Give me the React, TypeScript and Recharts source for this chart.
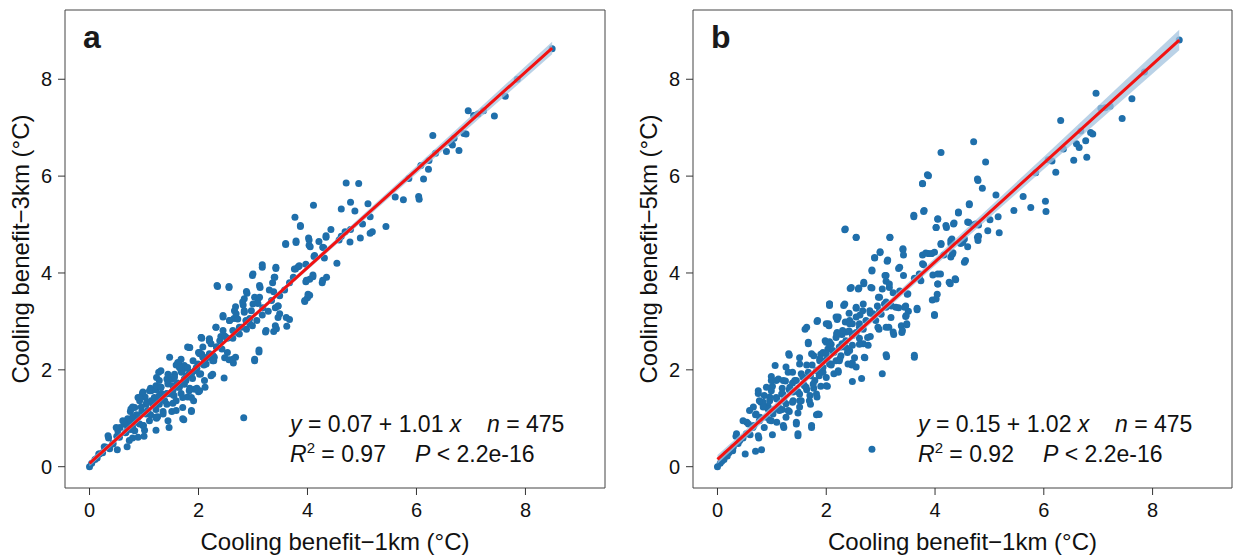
import React from "react";
import { ComposedChart, Scatter, Line, Area, XAxis, YAxis, ReferenceArea } from "recharts";

const FONT = "'Liberation Sans', Arial, sans-serif";
const DOT = "#1f6fab";
const FIT = "#f21212";
const BAND = "#a3c3df";

const TICKS = [0, 2, 4, 6, 8];
const X_DOMAIN = [-0.45, 9.46];
const Y_DOMAIN = [-0.44, 9.43];

// panel a: cooling benefit 1km (x) vs 3km (y)
const pointsA: number[][] = [
  [8.49, 8.63], [7.85, 8.0], [7.63, 7.65], [6.95, 7.35], [7.05, 7.25], [7.13, 7.28], [7.23, 7.35], [7.43, 7.24],
  [6.87, 6.88], [6.91, 6.87], [6.3, 6.84], [6.69, 6.78], [6.63, 6.69], [6.55, 6.51], [6.78, 6.53], [6.66, 6.64],
  [6.35, 6.47], [6.23, 6.32], [6.08, 6.22], [6.22, 6.14], [6.13, 5.94], [5.86, 5.95], [6.04, 5.58], [6.05, 5.52],
  [5.61, 5.57], [5.76, 5.51], [4.71, 5.86], [4.94, 5.85], [4.11, 5.4], [3.77, 5.15], [5.11, 5.43], [4.79, 5.46],
  [4.62, 5.32], [4.87, 5.28], [5.44, 4.96], [5.15, 5.16], [5.01, 5.01], [5.19, 4.85], [5.15, 4.82], [4.97, 4.72],
  [4.79, 4.9], [4.69, 4.85], [4.62, 4.76], [4.58, 4.68], [4.78, 4.64], [4.43, 4.9], [4.34, 4.74], [4.21, 4.65],
  [4.03, 4.68], [4.05, 4.54], [4.3, 4.52], [4.12, 4.34], [4.31, 4.31], [4.54, 4.2], [3.87, 4.96], [3.79, 4.63],
  [3.6, 4.59], [3.97, 4.18], [3.83, 4.13], [3.78, 4.08], [3.17, 4.12], [3.42, 4.09], [2.99, 3.95], [4.35, 3.91],
  [4.27, 3.8], [4.1, 3.92], [4.04, 3.87], [3.97, 3.82], [3.74, 3.91], [3.67, 3.8], [3.58, 3.65], [3.4, 3.91],
  [3.36, 3.8], [4.04, 3.54], [4.0, 3.49], [3.95, 3.41], [2.35, 3.72], [2.56, 3.7], [3.13, 3.7], [2.89, 3.58],
  [2.84, 3.47], [3.03, 3.5], [3.38, 3.61], [3.34, 3.43], [3.46, 3.32], [3.41, 3.28], [3.49, 3.16], [3.67, 3.04],
  [3.62, 2.9], [3.41, 2.91], [3.38, 2.79], [3.23, 2.78], [2.68, 3.3], [2.82, 3.34], [3.09, 3.37], [3.18, 3.28],
  [3.28, 3.21], [2.45, 3.09], [2.65, 3.06], [2.84, 3.19], [2.94, 3.06], [3.07, 3.02], [3.17, 3.13], [2.99, 2.91],
  [2.88, 2.84], [2.79, 2.88], [2.71, 2.77], [2.32, 2.88], [2.41, 2.69], [2.53, 2.65], [2.63, 2.65], [2.06, 2.65],
  [2.23, 2.54], [2.33, 2.47], [2.43, 2.43], [2.53, 2.36], [2.68, 2.26], [2.64, 2.14], [2.48, 2.25], [2.56, 2.21],
  [3.11, 2.37], [3.03, 2.19], [1.83, 2.46], [2.06, 2.32], [2.27, 2.29], [2.28, 2.19], [2.0, 2.36], [2.14, 2.25],
  [2.1, 2.1], [1.64, 2.14], [1.74, 2.03], [1.84, 1.95], [1.97, 2.03], [2.04, 1.92], [2.23, 1.88], [2.47, 1.83],
  [1.59, 2.1], [1.69, 1.95], [1.78, 1.88], [1.89, 1.82], [1.27, 1.95], [1.23, 1.84], [1.42, 1.81], [1.51, 1.81],
  [1.61, 1.73], [1.74, 1.7], [1.84, 1.62], [1.97, 1.62], [2.12, 1.64], [1.12, 1.62], [1.22, 1.59], [1.32, 1.51],
  [1.42, 1.51], [1.55, 1.47], [1.68, 1.51], [1.8, 1.44], [1.91, 1.36], [2.0, 1.55], [0.97, 1.51], [1.02, 1.44],
  [0.92, 1.36], [1.05, 1.33], [1.17, 1.33], [1.28, 1.29], [1.42, 1.29], [1.53, 1.31], [1.71, 1.22], [0.83, 1.22],
  [0.96, 1.14], [1.22, 1.18], [1.35, 1.14], [1.51, 1.14], [0.75, 1.14], [0.86, 1.07], [1.12, 1.07], [1.25, 1.03],
  [1.87, 1.14], [0.69, 0.92], [0.86, 0.92], [0.99, 0.85], [1.23, 1.0], [1.46, 0.81], [1.73, 0.97], [2.83, 1.01],
  [0.56, 0.81], [0.66, 0.7], [0.76, 0.77], [0.79, 0.59], [1.0, 0.63], [0.5, 0.63], [0.35, 0.59], [0.43, 0.48],
  [0.51, 0.35], [0.69, 0.41], [0.27, 0.41], [0.37, 0.37], [0.17, 0.26], [0.1, 0.15], [0.04, 0.07], [0.0, 0.0],
  [0.24, 0.29], [0.14, 0.18],
  [2.05, 2.67], [2.2, 2.64], [1.8, 2.47], [2.02, 2.36], [2.17, 2.26], [1.68, 2.22], [1.62, 2.15], [1.74, 2.09],
  [1.93, 1.98], [1.31, 1.98], [1.44, 1.74], [1.53, 1.67], [1.22, 1.67], [1.13, 1.57], [0.98, 1.54], [0.89, 1.43],
  [1.28, 1.47], [1.38, 1.36], [1.87, 1.43], [2.02, 1.57], [1.87, 1.16], [1.71, 0.99], [1.44, 0.95], [1.22, 1.02],
  [0.76, 1.19], [0.7, 0.99], [0.98, 0.85], [0.83, 0.74], [0.34, 0.64], [1.13, 1.36], [1.04, 1.29], [1.5, 1.5],
  [1.62, 1.64], [1.74, 1.81], [1.87, 1.91], [1.99, 2.12], [2.11, 2.19], [1.56, 1.91], [1.44, 1.91], [1.31, 1.64],
  [1.19, 1.43], [1.07, 1.16], [0.89, 1.02], [0.76, 0.95], [0.64, 0.88], [0.52, 0.74], [0.7, 0.81], [1.68, 1.98],
  [1.8, 2.05], [1.59, 1.36], [1.93, 1.6], [2.11, 1.78], [2.26, 1.91],
  [3.87, 4.98], [3.6, 4.61], [3.79, 4.66], [4.02, 4.72], [4.34, 4.77], [4.03, 4.57], [4.13, 4.36], [4.28, 4.53],
  [3.17, 4.17], [3.42, 4.12], [3.0, 3.98], [2.34, 3.74], [2.56, 3.72], [3.12, 3.74], [3.39, 3.91], [3.76, 4.08],
  [3.85, 4.15], [3.98, 3.85], [4.1, 3.96], [4.28, 3.85], [2.88, 3.62], [3.3, 3.65], [3.49, 3.53], [4.01, 3.56],
  [3.95, 3.43], [2.81, 3.4], [3.09, 3.46], [3.46, 3.32], [2.45, 3.12], [2.66, 3.22], [2.97, 3.22], [3.46, 3.08],
  [3.61, 3.08], [3.24, 2.81], [3.43, 2.85], [2.32, 2.88], [2.57, 3.02], [2.72, 3.05], [2.94, 2.95], [2.05, 2.67],
  [1.84, 2.46], [2.2, 2.6], [2.48, 2.7], [2.75, 2.74], [3.11, 2.41], [3.03, 2.22], [2.63, 2.22], [2.29, 2.26],
  [2.02, 2.33],
  [0.18, 0.26], [0.31, 0.4], [0.43, 0.47], [0.55, 0.61], [0.67, 0.71], [0.79, 0.81], [0.92, 0.88], [0.73, 0.54],
  [0.89, 0.61], [1.01, 0.75], [1.1, 0.95], [1.22, 1.02], [1.35, 1.09], [1.04, 1.09], [0.95, 1.23], [1.16, 1.3],
  [1.28, 1.4], [1.41, 1.5], [1.53, 1.57], [1.65, 1.64], [1.77, 1.78], [1.65, 2.05], [1.56, 1.85], [1.44, 1.71],
  [1.31, 1.64], [1.83, 1.91], [1.96, 2.05], [1.9, 2.19], [2.08, 2.26], [2.2, 2.33], [2.33, 2.47], [2.39, 2.6],
  [2.51, 2.67], [2.63, 2.81], [2.75, 2.88], [2.87, 3.02], [2.45, 2.81], [2.57, 3.02], [2.69, 3.16], [2.84, 3.22],
  [3.0, 3.36], [3.12, 3.5], [2.08, 2.47], [2.2, 2.6], [2.02, 1.91], [2.14, 2.12], [2.26, 2.19], [1.47, 2.26],
  [1.28, 1.78], [1.1, 1.57], [0.92, 1.43], [0.79, 1.23], [0.61, 0.95], [0.49, 0.81], [0.79, 1.02], [1.22, 0.75],
  [1.59, 1.16], [1.83, 1.57], [1.71, 1.43],
];

// panel b: cooling benefit 1km (x) vs 5km (y)
const pointsB: number[][] = [
  [8.49, 8.81], [7.85, 8.15], [6.96, 7.71], [7.62, 7.6], [7.05, 7.4], [7.13, 7.41], [7.22, 7.44], [7.44, 7.19],
  [6.31, 7.15], [6.68, 6.93], [6.86, 6.9], [6.9, 6.87], [6.6, 6.67], [6.65, 6.59], [6.77, 6.73], [6.36, 6.56],
  [6.55, 6.33], [6.79, 6.39], [6.15, 6.31], [6.08, 6.34], [6.22, 6.08], [5.85, 6.07], [4.71, 6.71], [4.11, 6.49],
  [4.93, 6.29], [3.88, 6.01], [3.77, 5.84], [4.79, 5.91], [4.87, 5.75], [5.12, 5.61], [5.62, 5.58], [5.45, 5.29],
  [5.76, 5.35], [6.03, 5.48], [6.04, 5.27], [4.63, 5.41], [4.43, 5.24], [3.61, 5.16], [3.79, 5.27], [4.05, 5.11],
  [4.21, 4.94], [4.02, 4.94], [4.34, 5.01], [4.62, 5.04], [4.7, 4.99], [4.8, 4.99], [5.01, 5.1], [5.16, 5.16],
  [4.97, 4.87], [5.18, 4.83], [4.8, 4.76], [4.79, 4.67], [4.47, 4.61], [4.54, 4.7], [4.6, 4.54], [4.31, 4.7],
  [4.29, 4.61], [4.11, 4.59], [4.16, 4.37], [4.29, 4.33], [4.33, 4.42], [4.54, 4.22], [3.77, 4.37], [3.88, 4.4],
  [3.94, 4.4], [3.79, 4.17], [3.17, 4.73], [2.99, 4.42], [2.89, 4.31], [2.34, 4.89], [2.55, 4.73], [3.41, 4.48],
  [3.42, 4.37], [3.33, 4.09], [3.12, 4.24], [2.84, 4.04], [3.42, 3.95], [3.62, 3.89], [3.71, 3.98], [3.74, 3.84],
  [3.96, 3.96], [4.1, 3.98], [4.05, 3.77], [4.04, 3.56], [3.95, 3.44], [4.28, 3.78], [4.38, 3.86], [3.99, 3.12],
  [3.08, 3.95], [3.1, 3.83], [3.16, 3.7], [3.03, 3.67], [3.23, 3.59], [2.84, 3.69], [2.69, 3.78], [2.59, 3.67],
  [2.44, 3.68], [2.96, 3.5], [2.94, 3.32], [3.07, 3.36], [3.2, 3.32], [3.33, 3.28], [3.46, 3.32], [3.49, 3.56],
  [3.51, 3.21], [3.46, 3.1], [3.67, 3.24], [3.38, 2.91], [3.48, 2.93], [3.24, 2.73], [3.39, 2.77], [2.06, 3.33],
  [2.32, 3.33], [2.55, 3.27], [2.68, 3.36], [2.42, 3.17], [2.62, 3.13], [2.81, 3.17], [2.91, 3.02], [2.2, 3.04],
  [2.35, 2.99], [2.48, 2.95], [1.83, 3.0], [2.05, 2.91], [2.2, 2.77], [2.29, 2.73], [2.42, 2.8], [2.55, 2.77],
  [2.68, 2.84], [2.81, 2.69], [2.97, 2.84], [3.1, 2.88], [1.61, 2.84], [2.06, 2.58], [2.29, 2.54], [2.48, 2.51],
  [2.61, 2.65], [2.68, 2.54], [2.77, 2.51], [2.71, 2.25], [1.98, 2.6], [2.03, 2.43], [2.14, 2.36], [2.27, 2.29],
  [2.39, 2.36], [2.52, 2.25], [2.47, 2.1], [2.55, 2.06], [2.48, 1.76], [2.65, 1.82], [1.67, 2.54], [1.77, 2.29],
  [1.9, 2.32], [2.0, 2.21], [2.09, 2.1], [2.22, 1.95], [2.14, 1.92], [2.0, 1.84], [2.02, 1.66], [3.11, 2.27],
  [3.03, 1.92], [3.62, 2.26], [1.32, 2.3], [1.51, 2.25], [1.64, 2.1], [1.74, 2.1], [1.83, 1.99], [1.26, 2.06],
  [1.38, 1.95], [1.54, 1.92], [1.71, 1.88], [1.87, 1.88], [0.99, 1.86], [1.12, 1.81], [1.25, 1.77], [1.38, 1.73],
  [1.58, 1.7], [1.01, 1.66], [1.19, 1.62], [1.32, 1.59], [1.48, 1.55], [1.64, 1.59], [1.77, 1.62], [1.9, 1.66],
  [1.83, 1.44], [0.75, 1.51], [0.86, 1.47], [0.96, 1.44], [1.09, 1.4], [1.22, 1.36], [1.38, 1.33], [1.54, 1.36],
  [1.71, 1.29], [0.8, 1.33], [0.93, 1.25], [1.04, 1.18], [1.19, 1.18], [1.32, 1.14], [1.48, 1.11], [1.45, 0.88],
  [1.82, 1.07], [1.87, 1.08], [0.7, 1.07], [0.8, 1.0], [0.96, 0.96], [1.09, 0.92], [1.22, 0.81], [0.54, 0.92],
  [0.67, 0.85], [0.86, 0.81], [1.01, 0.66], [1.48, 0.64], [1.73, 0.81], [0.34, 0.63], [0.47, 0.59], [0.6, 0.66],
  [0.76, 0.59], [0.7, 0.32], [0.81, 0.35], [0.51, 0.26], [0.38, 0.48], [0.28, 0.33], [0.18, 0.22], [0.12, 0.15],
  [0.05, 0.07], [0.0, 0.0], [2.84, 0.36], [0.21, 0.29], [0.08, 0.11],
  [2.06, 3.36], [1.84, 3.02], [2.22, 3.09], [2.04, 2.95], [1.64, 2.88], [2.37, 2.78], [2.19, 2.74], [1.67, 2.57],
  [2.0, 2.57], [2.28, 2.47], [2.43, 2.4], [1.31, 2.33], [1.73, 2.33], [1.88, 2.23], [2.06, 2.12], [2.25, 2.23],
  [2.4, 2.12], [1.06, 2.09], [1.51, 2.12], [1.3, 1.95], [1.67, 1.95], [1.94, 1.95], [2.22, 1.98], [0.99, 1.78],
  [1.21, 1.78], [1.42, 1.78], [1.6, 1.67], [1.79, 1.78], [2.0, 1.67], [0.75, 1.57], [0.99, 1.57], [1.18, 1.5],
  [1.39, 1.54], [1.7, 1.47], [1.51, 1.36], [0.84, 1.33], [0.66, 1.23], [0.93, 1.19], [1.12, 1.23], [1.3, 1.16],
  [1.85, 1.09], [1.73, 0.85], [1.45, 0.92], [1.21, 0.85], [0.99, 0.95], [0.78, 1.02], [0.57, 0.88], [1.48, 0.68],
  [0.75, 0.64], [0.35, 0.68],
  [3.86, 6.03], [3.77, 5.85], [4.78, 5.94], [4.63, 5.43], [3.61, 5.19], [3.8, 5.29], [4.05, 5.12], [4.43, 5.26],
  [2.35, 4.91], [2.55, 4.74], [3.17, 4.74], [4.02, 4.94], [4.2, 4.98], [4.35, 5.03], [4.6, 5.05], [4.75, 5.01],
  [4.11, 4.61], [4.29, 4.67], [4.51, 4.63], [4.78, 4.74], [2.99, 4.44], [2.89, 4.32], [3.13, 4.27], [3.41, 4.5],
  [3.83, 4.41], [3.99, 4.43], [4.32, 4.39], [4.56, 4.26], [3.35, 4.12], [2.84, 4.06], [3.1, 3.95], [3.77, 4.19],
  [3.71, 3.91], [4.05, 3.98], [4.37, 3.88], [2.69, 3.81], [2.46, 3.7], [2.6, 3.69], [2.82, 3.7], [3.16, 3.77],
  [3.35, 3.63], [3.5, 3.57], [4.05, 3.77], [4.26, 3.81], [4.02, 3.46], [2.98, 3.5], [3.1, 3.4], [3.28, 3.29],
  [3.44, 3.29], [2.06, 3.36], [2.34, 3.36], [2.55, 3.29], [2.8, 3.22], [3.01, 3.15], [3.19, 3.08], [3.47, 3.12],
  [3.67, 3.27], [3.99, 3.14], [2.18, 3.09], [2.43, 3.02], [2.61, 2.95], [2.95, 2.88], [3.15, 2.88], [3.23, 2.78],
  [3.4, 2.81], [3.48, 2.95], [2.0, 2.95], [2.24, 2.74], [2.48, 2.71], [2.76, 2.67], [2.09, 2.53], [2.36, 2.46],
  [2.61, 2.53], [3.1, 2.31], [3.62, 2.3], [1.94, 2.36], [2.18, 2.19], [2.48, 2.14], [2.7, 2.26],
  [0.16, 0.26], [0.29, 0.4], [0.41, 0.54], [0.53, 0.68], [0.65, 0.81], [0.77, 0.95], [0.9, 1.02], [0.71, 1.09],
  [0.84, 1.23], [0.96, 1.36], [1.08, 1.43], [1.2, 1.5], [1.02, 1.09], [1.14, 1.16], [1.26, 1.3], [1.39, 1.36],
  [1.51, 1.5], [1.33, 1.64], [1.45, 1.78], [1.57, 1.85], [1.69, 1.91], [1.82, 1.98], [1.63, 1.64], [1.76, 1.71],
  [1.88, 2.19], [2.0, 2.33], [2.12, 2.4], [2.24, 2.47], [2.36, 2.6], [2.49, 2.74], [2.61, 2.88], [2.73, 3.02],
  [2.86, 3.16], [2.98, 3.22], [3.1, 3.29], [2.43, 2.95], [2.55, 3.09], [2.67, 3.22], [2.18, 2.67], [2.3, 2.81],
  [2.06, 2.53], [1.94, 2.05], [2.09, 2.12], [2.24, 2.19], [1.08, 1.78], [0.9, 1.64], [0.77, 1.36], [0.59, 1.16],
  [0.47, 0.95], [1.26, 1.02], [1.51, 1.23], [1.69, 1.36], [1.82, 1.5],
];

// fitted lines and 95% band half-widths read at bandX
const fitA = { intercept: 0.07, slope: 1.01 };
const fitB = { intercept: 0.15, slope: 1.02 };
const bandX = [0, 2, 4, 6, 8.49];
const bandHalfA = [0.06, 0.04, 0.05, 0.08, 0.13];
const bandHalfB = [0.09, 0.06, 0.08, 0.13, 0.21];

const statsA = { a: "0.07", b: "1.01", n: "475", r2: "0.97", p: "2.2e-16" };
const statsB = { a: "0.15", b: "1.02", n: "475", r2: "0.92", p: "2.2e-16" };

const W = 1234;
const H = 558;

type PanelProps = {
  left: number;
  width: number;
  rightMargin: number;
  letter: string;
  yTitle: string;
  points: number[][];
  fit: { intercept: number; slope: number };
  half: number[];
  stats: typeof statsA;
};

function Panel({ left, width, rightMargin, letter, yTitle, points, fit, half, stats }: PanelProps) {
  const scatterData = points.map(([x, y]) => ({ x, y }));
  const fitData = bandX.map((x, i) => {
    const f = fit.intercept + fit.slope * x;
    return { x, fit: f, band: [f - half[i], f + half[i]] };
  });
  const plotCenter = (65 + width - rightMargin) / 2;
  const axisTick = { fontSize: 20, fill: "#111", fontFamily: FONT };
  const margin = { top: 10, right: rightMargin, bottom: 0, left: 0 };

  return (
    <div style={{ position: "absolute", left, top: 0, width, height: H }}>
      {/* points, axes and frame */}
      <div style={{ position: "absolute", left: 0, top: 0 }}>
        <ComposedChart width={width} height={H} data={fitData} margin={margin}>
          <XAxis
            type="number"
            dataKey="x"
            domain={X_DOMAIN}
            ticks={TICKS}
            allowDataOverflow
            height={70}
            axisLine={false}
            tickLine={{ stroke: "#333" }}
            tickSize={7}
            tickMargin={8}
            tick={axisTick}
          />
          <YAxis
            type="number"
            domain={Y_DOMAIN}
            ticks={TICKS}
            allowDataOverflow
            width={65}
            axisLine={false}
            tickLine={{ stroke: "#333" }}
            tickSize={7}
            tickMargin={6}
            tick={axisTick}
          />
          <Scatter
            data={scatterData}
            dataKey="y"
            isAnimationActive={false}
            shape={(p: any) => <circle cx={p.cx} cy={p.cy} r={3.5} fill={DOT} />}
          />
          <ReferenceArea
            x1={X_DOMAIN[0]}
            x2={X_DOMAIN[1]}
            y1={Y_DOMAIN[0]}
            y2={Y_DOMAIN[1]}
            fill="none"
            stroke="#444"
            strokeWidth={1}
            ifOverflow="visible"
          />
        </ComposedChart>
      </div>
      {/* regression band and line drawn on top of the points */}
      <div style={{ position: "absolute", left: 0, top: 0 }}>
        <ComposedChart width={width} height={H} data={fitData} margin={margin}>
          <XAxis
            type="number"
            dataKey="x"
            domain={X_DOMAIN}
            ticks={TICKS}
            allowDataOverflow
            height={70}
            axisLine={false}
            tickLine={false}
            tick={false}
          />
          <YAxis
            type="number"
            domain={Y_DOMAIN}
            ticks={TICKS}
            allowDataOverflow
            width={65}
            axisLine={false}
            tickLine={false}
            tick={false}
          />
          <Area
            dataKey="band"
            type="linear"
            stroke="none"
            fill={BAND}
            fillOpacity={0.75}
            isAnimationActive={false}
          />
          <Line
            dataKey="fit"
            type="linear"
            stroke={FIT}
            strokeWidth={3}
            dot={false}
            isAnimationActive={false}
          />
        </ComposedChart>
      </div>
      <svg
        width={width}
        height={H}
        style={{ position: "absolute", left: 0, top: 0, pointerEvents: "none" }}
        fontFamily={FONT}
      >
        <text x={83} y={48} fontSize={32} fontWeight="bold" fill="#1a1a1a">
          {letter}
        </text>
        <text x={290} y={432} fontSize={23} fill="#111">
          <tspan fontStyle="italic">y</tspan>
          {` = ${stats.a} + ${stats.b} `}
          <tspan fontStyle="italic">x</tspan>
        </text>
        <text x={487} y={432} fontSize={23} fill="#111">
          <tspan fontStyle="italic">n</tspan>
          {` = ${stats.n}`}
        </text>
        <text x={290} y={462} fontSize={23} fill="#111">
          <tspan fontStyle="italic">R</tspan>
          <tspan fontSize={15} dy={-9}>2</tspan>
          <tspan dy={9}>{` = ${stats.r2}`}</tspan>
        </text>
        <text x={415} y={462} fontSize={23} fill="#111">
          <tspan fontStyle="italic">P</tspan>
          {` < ${stats.p}`}
        </text>
        <text x={plotCenter} y={550} fontSize={24} textAnchor="middle" fill="#111">
          Cooling benefit−1km (°C)
        </text>
        <text
          x={20}
          y={249}
          fontSize={24}
          textAnchor="middle"
          dominantBaseline="central"
          transform="rotate(-90 20 249)"
          fill="#111"
        >
          {yTitle}
        </text>
      </svg>
    </div>
  );
}

export default function App() {
  return (
    <div style={{ position: "absolute", left: 0, top: 0, width: W, height: H, background: "#fff" }}>
      <Panel
        left={0}
        width={617}
        rightMargin={12}
        letter="a"
        yTitle="Cooling benefit−3km (°C)"
        points={pointsA}
        fit={fitA}
        half={bandHalfA}
        stats={statsA}
      />
      <Panel
        left={628}
        width={606}
        rightMargin={2}
        letter="b"
        yTitle="Cooling benefit−5km (°C)"
        points={pointsB}
        fit={fitB}
        half={bandHalfB}
        stats={statsB}
      />
    </div>
  );
}
